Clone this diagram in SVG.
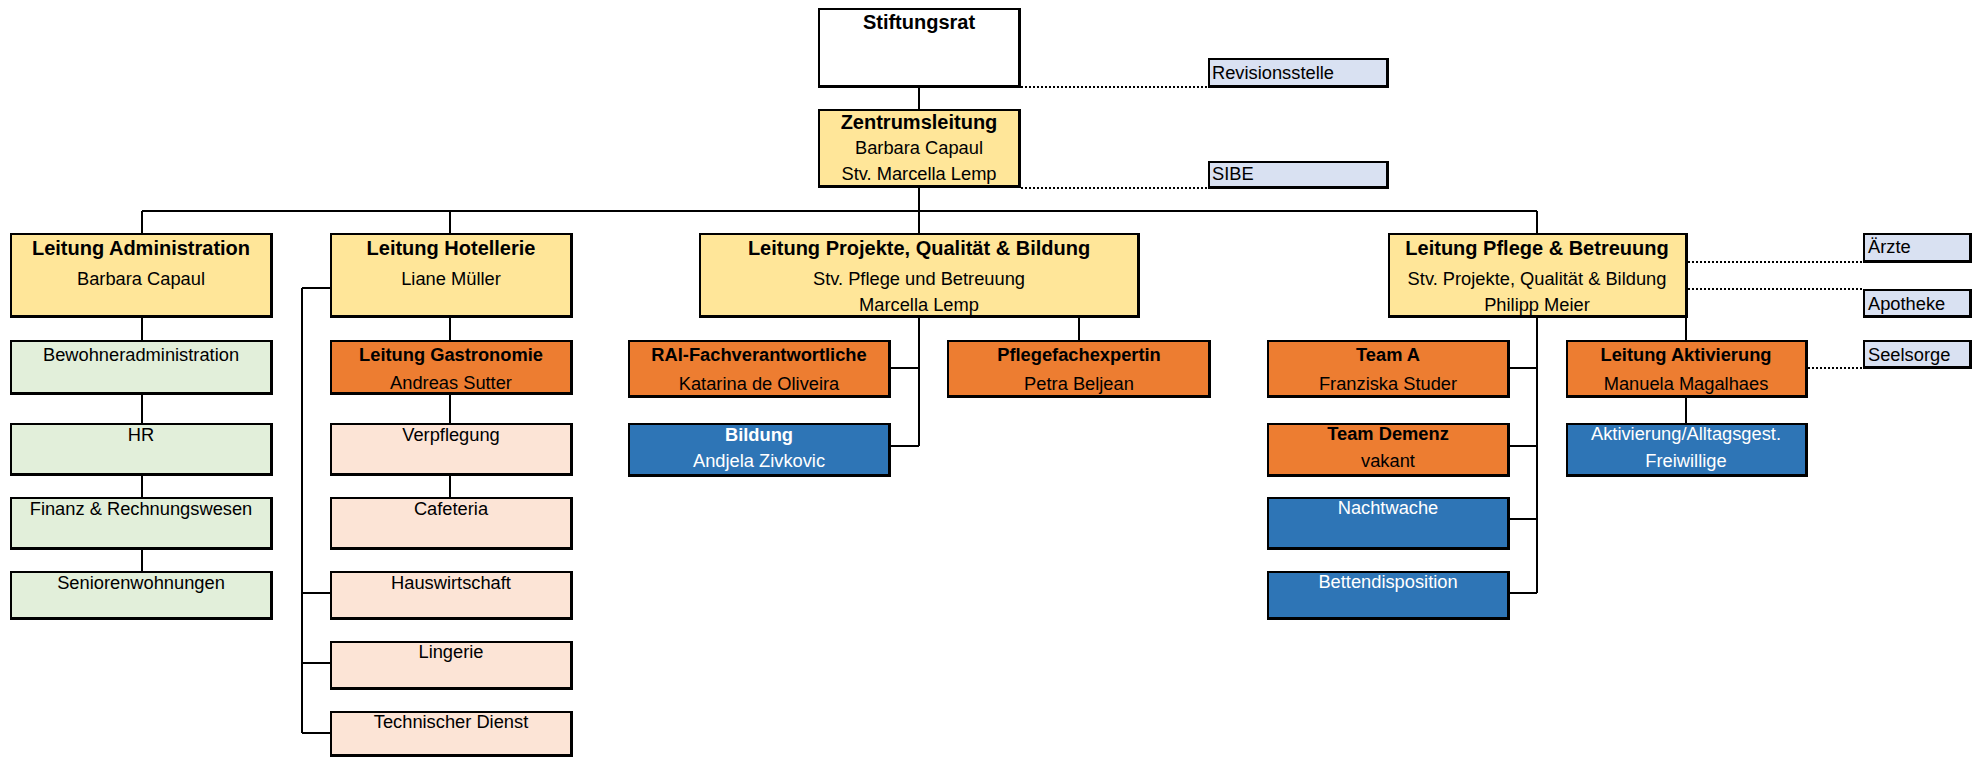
<svg xmlns="http://www.w3.org/2000/svg" width="1981" height="757" viewBox="0 0 1981 757">
<style>
text{font-family:"Liberation Sans",Arial,sans-serif;font-size:18.3px;fill:#000}
.c{text-anchor:middle}
.h{font-weight:bold;font-size:20px}
.hb{font-weight:bold}
.w{fill:#fff}
.bd{fill:#000}
.y{fill:#FFE699}
.o{fill:#ED7D31}
.bl{fill:#2E75B6}
.g{fill:#E2EFDA}
.p{fill:#FCE4D6}
.l{fill:#D9E1F2}
.wh{fill:#fff}
.ln{stroke:#000;stroke-width:2;fill:none}
.dt{stroke:#000;stroke-width:2;fill:none;stroke-dasharray:2,2}
</style>
<rect width="1981" height="757" fill="#fff"/>
<g id="connectors">
<path class="ln" d="M919 88V109M919 188V211M142 211H1537M142 211V571M450 211V497M919 211V446M1537 211V593M302 288V733M302 288H330M302 593H330M302 663H330M302 733H330M890 368H919M890 446H919M1079 318V340M1509 368H1537M1509 446H1537M1509 519H1537M1509 593H1537M1686 318V423"/>
<path class="dt" d="M1021 87H1208M1021 188H1208M1688 262H1863M1688 289H1863M1808 368H1863"/>
</g>
<g id="stiftungsrat"><rect class="bd" x="818" y="8" width="203" height="80"/><rect class="wh" x="820" y="10" width="198" height="75"/><text class="c h" x="919" y="29">Stiftungsrat</text></g>
<g id="revisionsstelle"><rect class="bd" x="1208" y="58" width="181" height="30"/><rect class="l" x="1210" y="60" width="176" height="25"/><text x="1212" y="79">Revisionsstelle</text></g>
<g id="zentrumsleitung"><rect class="bd" x="818" y="109" width="203" height="79"/><rect class="y" x="820" y="111" width="198" height="74"/><text class="c h" x="919" y="129">Zentrumsleitung</text><text class="c" x="919" y="154">Barbara Capaul</text><text class="c" x="919" y="180">Stv. Marcella Lemp</text></g>
<g id="sibe"><rect class="bd" x="1208" y="161" width="181" height="28"/><rect class="l" x="1210" y="163" width="176" height="23"/><text x="1212" y="180">SIBE</text></g>
<g id="l-admin"><rect class="bd" x="10" y="233" width="263" height="85"/><rect class="y" x="12" y="235" width="258" height="80"/><text class="c h" x="141" y="255">Leitung Administration</text><text class="c" x="141" y="285">Barbara Capaul</text></g>
<g id="l-hotel"><rect class="bd" x="330" y="233" width="243" height="85"/><rect class="y" x="332" y="235" width="238" height="80"/><text class="c h" x="451" y="255">Leitung Hotellerie</text><text class="c" x="451" y="285">Liane Müller</text></g>
<g id="l-pqb"><rect class="bd" x="699" y="233" width="441" height="85"/><rect class="y" x="701" y="235" width="436" height="80"/><text class="c h" x="919" y="255">Leitung Projekte, Qualität &amp; Bildung</text><text class="c" x="919" y="285">Stv. Pflege und Betreuung</text><text class="c" x="919" y="311">Marcella Lemp</text></g>
<g id="l-pflege"><rect class="bd" x="1388" y="233" width="300" height="85"/><rect class="y" x="1390" y="235" width="295" height="80"/><text class="c h" x="1537" y="255">Leitung Pflege &amp; Betreuung</text><text class="c" x="1537" y="285">Stv. Projekte, Qualität &amp; Bildung</text><text class="c" x="1537" y="311">Philipp Meier</text></g>
<g id="aerzte"><rect class="bd" x="1863" y="233" width="109" height="30"/><rect class="l" x="1865" y="235" width="104" height="25"/><text x="1868" y="253">Ärzte</text></g>
<g id="apotheke"><rect class="bd" x="1863" y="289" width="109" height="29"/><rect class="l" x="1865" y="291" width="104" height="24"/><text x="1868" y="310">Apotheke</text></g>
<g id="seelsorge"><rect class="bd" x="1863" y="340" width="109" height="29"/><rect class="l" x="1865" y="342" width="104" height="24"/><text x="1868" y="361">Seelsorge</text></g>
<g id="bewohneradmin"><rect class="bd" x="10" y="340" width="263" height="55"/><rect class="g" x="12" y="342" width="258" height="50"/><text class="c" x="141" y="361">Bewohneradministration</text></g>
<g id="hr"><rect class="bd" x="10" y="423" width="263" height="53"/><rect class="g" x="12" y="425" width="258" height="48"/><text class="c" x="141" y="441">HR</text></g>
<g id="finanz"><rect class="bd" x="10" y="497" width="263" height="53"/><rect class="g" x="12" y="499" width="258" height="48"/><text class="c" x="141" y="515">Finanz &amp; Rechnungswesen</text></g>
<g id="senioren"><rect class="bd" x="10" y="571" width="263" height="49"/><rect class="g" x="12" y="573" width="258" height="44"/><text class="c" x="141" y="589">Seniorenwohnungen</text></g>
<g id="gastronomie"><rect class="bd" x="330" y="340" width="243" height="55"/><rect class="o" x="332" y="342" width="238" height="50"/><text class="c hb" x="451" y="361">Leitung Gastronomie</text><text class="c" x="451" y="389">Andreas Sutter</text></g>
<g id="verpflegung"><rect class="bd" x="330" y="423" width="243" height="53"/><rect class="p" x="332" y="425" width="238" height="48"/><text class="c" x="451" y="441">Verpflegung</text></g>
<g id="cafeteria"><rect class="bd" x="330" y="497" width="243" height="53"/><rect class="p" x="332" y="499" width="238" height="48"/><text class="c" x="451" y="515">Cafeteria</text></g>
<g id="hauswirtschaft"><rect class="bd" x="330" y="571" width="243" height="49"/><rect class="p" x="332" y="573" width="238" height="44"/><text class="c" x="451" y="589">Hauswirtschaft</text></g>
<g id="lingerie"><rect class="bd" x="330" y="641" width="243" height="49"/><rect class="p" x="332" y="643" width="238" height="44"/><text class="c" x="451" y="658">Lingerie</text></g>
<g id="technischer-dienst"><rect class="bd" x="330" y="711" width="243" height="46"/><rect class="p" x="332" y="713" width="238" height="41"/><text class="c" x="451" y="728">Technischer Dienst</text></g>
<g id="rai"><rect class="bd" x="628" y="340" width="263" height="58"/><rect class="o" x="630" y="342" width="258" height="53"/><text class="c hb" x="759" y="361">RAI-Fachverantwortliche</text><text class="c" x="759" y="390">Katarina de Oliveira</text></g>
<g id="pflegefachexpertin"><rect class="bd" x="947" y="340" width="264" height="58"/><rect class="o" x="949" y="342" width="259" height="53"/><text class="c hb" x="1079" y="361">Pflegefachexpertin</text><text class="c" x="1079" y="390">Petra Beljean</text></g>
<g id="bildung"><rect class="bd" x="628" y="423" width="263" height="54"/><rect class="bl" x="630" y="425" width="258" height="49"/><text class="c hb w" x="759" y="441">Bildung</text><text class="c w" x="759" y="467">Andjela Zivkovic</text></g>
<g id="team-a"><rect class="bd" x="1267" y="340" width="243" height="58"/><rect class="o" x="1269" y="342" width="238" height="53"/><text class="c hb" x="1388" y="361">Team A</text><text class="c" x="1388" y="390">Franziska Studer</text></g>
<g id="team-demenz"><rect class="bd" x="1267" y="423" width="243" height="54"/><rect class="o" x="1269" y="425" width="238" height="49"/><text class="c hb" x="1388" y="440">Team Demenz</text><text class="c" x="1388" y="467">vakant</text></g>
<g id="nachtwache"><rect class="bd" x="1267" y="497" width="243" height="53"/><rect class="bl" x="1269" y="499" width="238" height="48"/><text class="c w" x="1388" y="514">Nachtwache</text></g>
<g id="bettendisposition"><rect class="bd" x="1267" y="571" width="243" height="49"/><rect class="bl" x="1269" y="573" width="238" height="44"/><text class="c w" x="1388" y="588">Bettendisposition</text></g>
<g id="l-aktivierung"><rect class="bd" x="1566" y="340" width="242" height="58"/><rect class="o" x="1568" y="342" width="237" height="53"/><text class="c hb" x="1686" y="361">Leitung Aktivierung</text><text class="c" x="1686" y="390">Manuela Magalhaes</text></g>
<g id="aktivierung"><rect class="bd" x="1566" y="423" width="242" height="54"/><rect class="bl" x="1568" y="425" width="237" height="49"/><text class="c w" x="1686" y="440">Aktivierung/Alltagsgest.</text><text class="c w" x="1686" y="467">Freiwillige</text></g>
</svg>
